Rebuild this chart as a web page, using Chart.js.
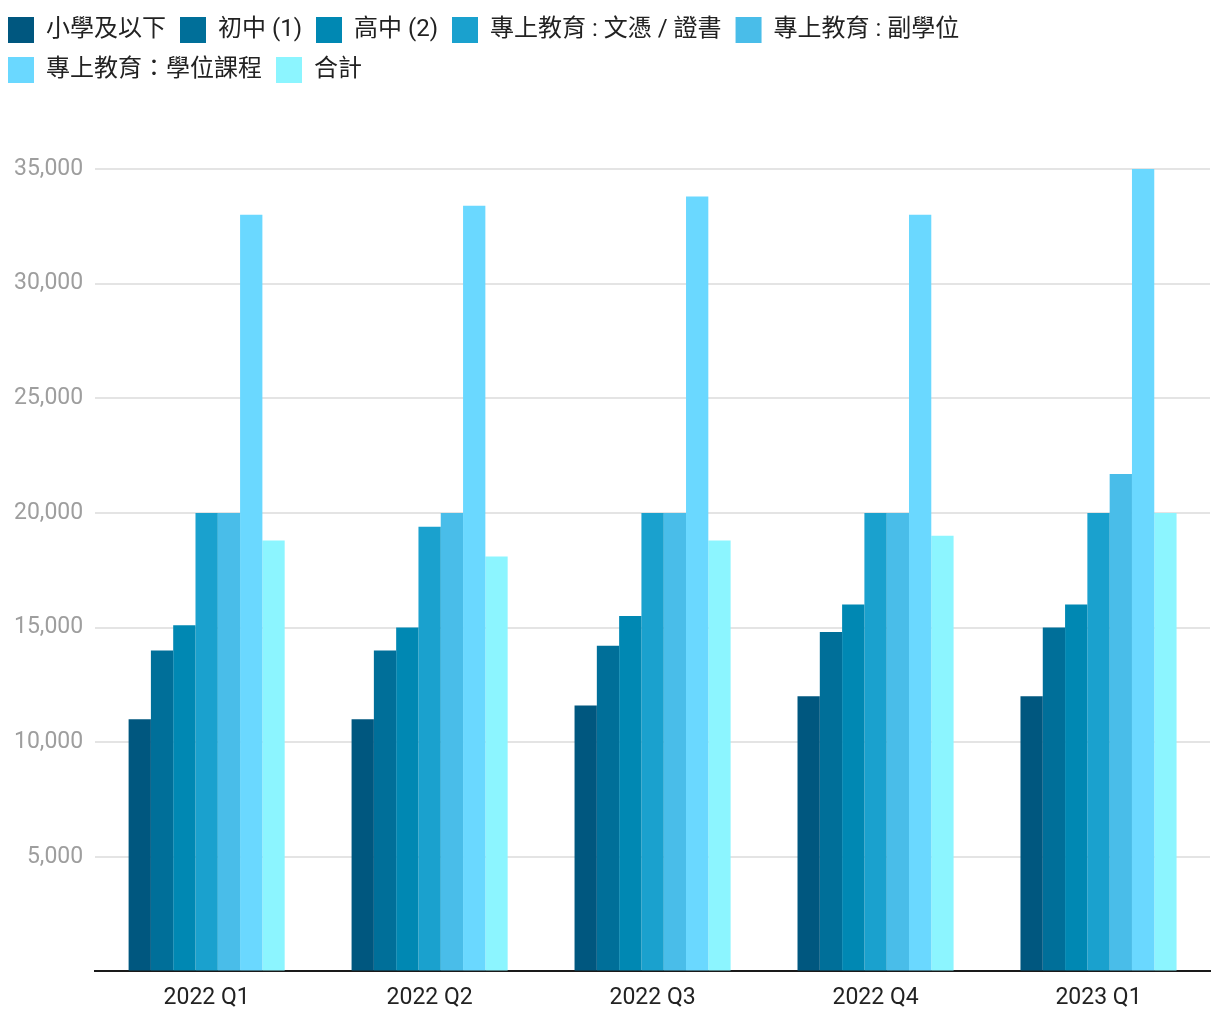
<!DOCTYPE html>
<html>
<head>
<meta charset="utf-8">
<script src="https://cdn.jsdelivr.net/npm/chart.js@4"></script>
<style>
    body { margin: 0; background: #fff; }
    #wrap { width: 1220px; height: 1020px; }
</style>
</head>
<body>
<div id="wrap"><canvas id="eduChart"></canvas></div>
<script>
// categories and series
const quarters = ['2022 Q1', '2022 Q2', '2022 Q3', '2022 Q4', '2023 Q1'];
const seriesNames = ['小學及以下', '初中 (1)', '高中 (2)', '專上教育 : 文憑 / 證書', '專上教育 : 副學位', '專上教育：學位課程', '合計'];
const primaryOrBelow = [11000, 11000, 11600, 12000, 12000];
const lowerSecondary = [14000, 14000, 14200, 14800, 15000];
const upperSecondary = [15100, 15000, 15500, 16000, 16000];
const diplomaCert = [20000, 19400, 20000, 20000, 20000];
const subDegree = [20000, 20000, 20000, 20000, 21700];
const degreeCourse = [33000, 33400, 33800, 33000, 35000];
const overall = [18800, 18100, 18800, 19000, 20000];
const yTicks = [0, 5000, 10000, 15000, 20000, 25000, 30000, 35000];

const seriesValues = [primaryOrBelow, lowerSecondary, upperSecondary, diplomaCert, subDegree, degreeCourse, overall];
const colors = ['#00577f', '#006f99', '#0088b3', '#1aa1ce', '#49bde9', '#6ad8ff', '#8cf5ff'];

const fontFamily = "Roboto, 'Noto Sans CJK TC', sans-serif";

// push the plot down below the legend, and nudge the legend a bit left
const legendGap = {
    id: 'legendGap',
    beforeInit(chart) {
        const origFit = chart.legend.fit;
        chart.legend.fit = function() {
            origFit.bind(chart.legend)();
            this.height += 76;
        };
    },
    afterLayout(chart) {
        chart.legend.left -= 8;
        chart.legend.right -= 8;
    }
};

const ctx = document.getElementById('eduChart').getContext('2d');
new Chart(ctx, {
    type: 'bar',
    data: {
        labels: quarters,
        datasets: seriesNames.map((name, i) => ({
            label: name,
            data: seriesValues[i],
            backgroundColor: colors[i],
            borderWidth: 0
        }))
    },
    options: {
        responsive: true,
        maintainAspectRatio: false,
        animation: false,
        layout: { padding: { top: 3, right: 10, left: 2, bottom: 3 } },
        datasets: {
            bar: { categoryPercentage: 0.7, barPercentage: 1.0 }
        },
        plugins: {
            tooltip: { enabled: false },
            legend: {
                position: 'top',
                align: 'start',
                labels: {
                    boxWidth: 26,
                    boxHeight: 26,
                    padding: 14,
                    color: '#222',
                    font: { family: fontFamily, size: 24 }
                }
            }
        },
        scales: {
            x: {
                grid: { display: false },
                border: { color: '#1a1a1a', width: 2 },
                ticks: {
                    color: '#222',
                    padding: 5,
                    font: { family: fontFamily, size: 23 }
                }
            },
            y: {
                min: 0,
                max: 35000,
                afterBuildTicks(axis) {
                    axis.ticks = yTicks.map(v => ({ value: v }));
                },
                grid: { color: '#e4e4e4', lineWidth: 2, drawTicks: false },
                border: { display: false },
                ticks: {
                    color: '#9e9e9e',
                    padding: 12,
                    font: { family: fontFamily, size: 23 },
                    callback: v => v === 0 ? '' : v.toLocaleString('en-US')
                }
            }
        }
    },
    plugins: [legendGap]
});
</script>
</body>
</html>
